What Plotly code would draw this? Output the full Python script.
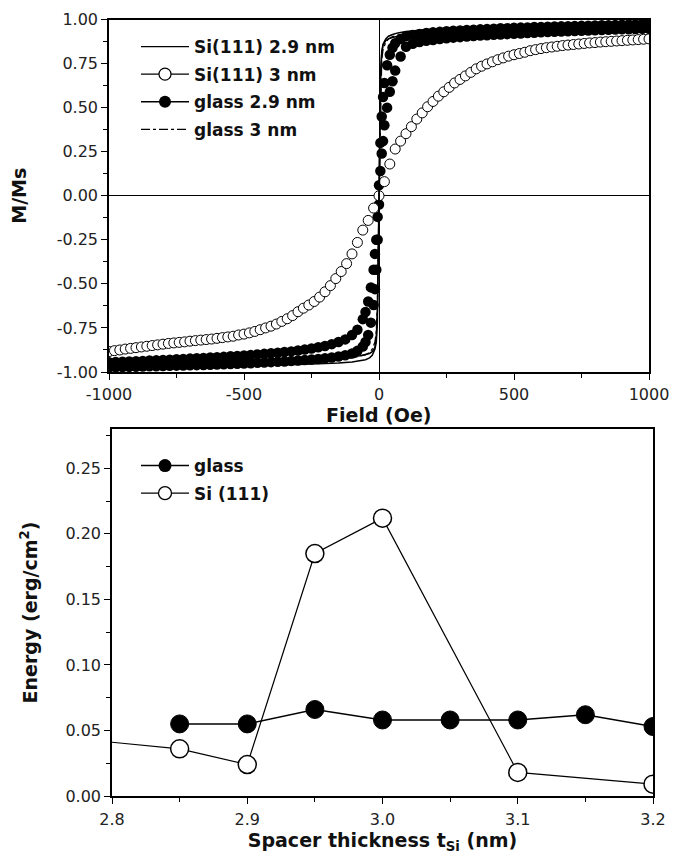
import plotly.graph_objects as go

# ---------------- Top panel: hysteresis loops (Field in Oe, M/Ms) ----------------
GLASS29_H = [-1000, -975, -950, -925, -900, -875, -850, -825, -800, -775, -750, -725,
             -700, -675, -650, -625, -600, -575, -550, -525, -500, -475, -450, -425,
             -400, -375, -350, -325, -300, -275, -250, -225, -200, -175, -150, -125,
             -100, -80, -60, -50, -40, -30, -20, -15, -10, -5, 0, 5, 10, 15, 20, 30,
             40, 50, 60, 80, 100, 125, 150, 175, 200, 225, 250, 275, 300, 325, 350,
             375, 400, 425, 450, 475, 500, 525, 550, 575, 600, 625, 650, 675, 700,
             725, 750, 775, 800, 825, 850, 875, 900, 925, 950, 975, 1000]
GLASS29_DESC = [-0.945, -0.943, -0.942, -0.940, -0.939, -0.937, -0.935, -0.934, -0.932,
                -0.930, -0.928, -0.926, -0.924, -0.922, -0.920, -0.918, -0.916, -0.914,
                -0.911, -0.909, -0.906, -0.903, -0.900, -0.897, -0.894, -0.891, -0.887,
                -0.883, -0.878, -0.873, -0.867, -0.860, -0.852, -0.842, -0.830, -0.815,
                -0.790, -0.760, -0.700, -0.660, -0.600, -0.520, -0.420, -0.330, -0.250,
                -0.120, 0.060, 0.300, 0.450, 0.560, 0.640, 0.740, 0.800, 0.840, 0.865,
                0.890, 0.905, 0.912, 0.918, 0.923, 0.927, 0.930, 0.933, 0.936, 0.938,
                0.940, 0.942, 0.944, 0.946, 0.948, 0.950, 0.951, 0.953, 0.954, 0.955,
                0.957, 0.958, 0.959, 0.960, 0.961, 0.962, 0.963, 0.964, 0.965, 0.966,
                0.967, 0.968, 0.969, 0.970, 0.971, 0.972, 0.973, 0.974]
GLASS29_ASC = [-0.974, -0.973, -0.972, -0.971, -0.970, -0.969, -0.968, -0.967, -0.966,
               -0.965, -0.964, -0.963, -0.962, -0.961, -0.960, -0.959, -0.958, -0.956,
               -0.955, -0.953, -0.952, -0.950, -0.948, -0.946, -0.944, -0.942, -0.940,
               -0.937, -0.935, -0.932, -0.929, -0.926, -0.922, -0.918, -0.912, -0.905,
               -0.895, -0.880, -0.855, -0.830, -0.790, -0.720, -0.620, -0.530, -0.420,
               -0.250, -0.050, 0.140, 0.240, 0.310, 0.400, 0.500, 0.590, 0.650, 0.710,
               0.790, 0.845, 0.862, 0.872, 0.879, 0.884, 0.889, 0.893, 0.897, 0.900,
               0.903, 0.906, 0.909, 0.911, 0.913, 0.915, 0.917, 0.919, 0.921, 0.923,
               0.925, 0.927, 0.929, 0.930, 0.932, 0.933, 0.935, 0.936, 0.938, 0.939,
               0.940, 0.942, 0.943, 0.944, 0.945, 0.946, 0.947, 0.948]

SI3_H = [-1000, -980, -960, -940, -920, -900, -880, -860, -840, -820, -800, -780, -760,
         -740, -720, -700, -680, -660, -640, -620, -600, -580, -560, -540, -520, -500,
         -480, -460, -440, -420, -400, -380, -360, -340, -320, -300, -280, -260, -240,
         -220, -200, -180, -160, -140, -120, -100, -80, -60, -40, -20, 0, 20, 40, 60,
         80, 100, 120, 140, 160, 180, 200, 220, 240, 260, 280, 300, 320, 340, 360, 380,
         400, 420, 440, 460, 480, 500, 520, 540, 560, 580, 600, 620, 640, 660, 680,
         700, 720, 740, 760, 780, 800, 820, 840, 860, 880, 900, 920, 940, 960, 980, 1000]
SI3_M = [-0.884, -0.879, -0.875, -0.870, -0.866, -0.862, -0.858, -0.854, -0.850, -0.846,
         -0.842, -0.838, -0.835, -0.832, -0.829, -0.825, -0.822, -0.819, -0.816, -0.813,
         -0.809, -0.805, -0.801, -0.797, -0.790, -0.785, -0.778, -0.770, -0.760, -0.750,
         -0.740, -0.728, -0.713, -0.698, -0.680, -0.658, -0.638, -0.620, -0.600, -0.575,
         -0.545, -0.510, -0.470, -0.430, -0.385, -0.330, -0.265, -0.195, -0.140, -0.070,
         0.000, 0.080, 0.180, 0.265, 0.310, 0.352, 0.392, 0.435, 0.470, 0.505, 0.535,
         0.565, 0.590, 0.615, 0.640, 0.660, 0.680, 0.700, 0.720, 0.735, 0.748, 0.760,
         0.772, 0.782, 0.792, 0.800, 0.807, 0.814, 0.823, 0.829, 0.835, 0.840, 0.844,
         0.848, 0.852, 0.855, 0.858, 0.861, 0.864, 0.867, 0.869, 0.872, 0.874, 0.876,
         0.878, 0.880, 0.882, 0.884, 0.886, 0.888, 0.890]

LOOP_H = [-1000, -800, -600, -400, -300, -200, -150, -100, -70, -50, -35, -25, -15, -10,
          -6, -3, 0, 3, 6, 10, 15, 25, 35, 50, 70, 100, 150, 200, 300, 400, 600, 800, 1000]
SI29_DESC = [-0.946, -0.942, -0.937, -0.931, -0.927, -0.922, -0.918, -0.913, -0.908,
             -0.903, -0.895, -0.885, -0.860, -0.800, -0.650, -0.350, 0.050, 0.400, 0.700,
             0.820, 0.860, 0.890, 0.905, 0.915, 0.924, 0.932, 0.940, 0.946, 0.953, 0.958,
             0.965, 0.970, 0.975]
SI29_ASC = [-0.975, -0.972, -0.968, -0.962, -0.958, -0.953, -0.949, -0.943, -0.937,
            -0.930, -0.920, -0.905, -0.870, -0.830, -0.720, -0.450, -0.050, 0.380, 0.680,
            0.800, 0.855, 0.880, 0.890, 0.898, 0.905, 0.910, 0.916, 0.921, 0.928, 0.933,
            0.940, 0.945, 0.950]
GLASS3_M = [-0.960, -0.955, -0.950, -0.943, -0.938, -0.932, -0.927, -0.920, -0.912,
            -0.903, -0.890, -0.870, -0.830, -0.770, -0.620, -0.350, 0.000, 0.350, 0.620,
            0.770, 0.830, 0.870, 0.890, 0.903, 0.912, 0.920, 0.927, 0.932, 0.938, 0.943,
            0.950, 0.955, 0.960]

TOP_X_TICKS = [-1000, -500, 0, 500, 1000]
TOP_X_LABELS = ["-1000", "-500", "0", "500", "1000"]
TOP_Y_TICKS = [-1.0, -0.75, -0.5, -0.25, 0.0, 0.25, 0.5, 0.75, 1.0]
TOP_Y_LABELS = ["-1.00", "-0.75", "-0.50", "-0.25", "0.00", "0.25", "0.50", "0.75", "1.00"]

# ---------------- Bottom panel: energy vs spacer thickness ----------------
GLASS_T = [2.85, 2.90, 2.95, 3.00, 3.05, 3.10, 3.15, 3.20]
GLASS_E = [0.055, 0.055, 0.066, 0.058, 0.058, 0.058, 0.062, 0.053]
SI_T = [2.75, 2.85, 2.90, 2.95, 3.00, 3.10, 3.20]
SI_E = [0.046, 0.036, 0.024, 0.185, 0.212, 0.018, 0.009]

FONT = "DejaVu Sans, Arial, sans-serif"
W, H = 681, 857

fig = go.Figure()

# ---- top panel data traces
fig.add_trace(go.Scatter(
    x=GLASS29_H + GLASS29_H, y=GLASS29_DESC + GLASS29_ASC, mode="markers",
    showlegend=False,
    marker=dict(symbol="circle", size=10.5, color="black", line=dict(width=0)),
    xaxis="x", yaxis="y"))
fig.add_trace(go.Scatter(
    x=SI3_H, y=SI3_M, mode="markers", showlegend=False,
    marker=dict(symbol="circle", size=10, color="white", line=dict(color="black", width=1)),
    xaxis="x", yaxis="y"))
fig.add_trace(go.Scatter(
    x=LOOP_H + [None] + LOOP_H, y=SI29_DESC + [None] + SI29_ASC, mode="lines",
    showlegend=False, line=dict(color="black", width=1.5), xaxis="x", yaxis="y"))
fig.add_trace(go.Scatter(
    x=LOOP_H, y=GLASS3_M, mode="lines", showlegend=False,
    line=dict(color="black", width=1.3, dash="dashdot"), xaxis="x", yaxis="y"))

# legend entries (top)
fig.add_trace(go.Scatter(x=[None], y=[None], mode="lines", name="Si(111) 2.9 nm",
                         legend="legend", legendgroup="a",
                         line=dict(color="black", width=1.2), xaxis="x", yaxis="y"))
fig.add_trace(go.Scatter(x=[None], y=[None], mode="lines+markers", name="Si(111) 3 nm",
                         legend="legend", legendgroup="b",
                         line=dict(color="black", width=1.2),
                         marker=dict(size=12, color="white", line=dict(color="black", width=1.2)),
                         xaxis="x", yaxis="y"))
fig.add_trace(go.Scatter(x=[None], y=[None], mode="lines+markers", name="glass 2.9 nm",
                         legend="legend", legendgroup="c",
                         line=dict(color="black", width=1.5),
                         marker=dict(size=12, color="black", line=dict(width=0)),
                         xaxis="x", yaxis="y"))
fig.add_trace(go.Scatter(x=[None], y=[None], mode="lines", name="glass 3 nm",
                         legend="legend", legendgroup="d",
                         line=dict(color="black", width=1.1, dash="dashdot"),
                         xaxis="x", yaxis="y"))

# ---- bottom panel
fig.add_trace(go.Scatter(
    x=GLASS_T, y=GLASS_E, mode="lines+markers", showlegend=False,
    line=dict(color="black", width=1.5),
    marker=dict(symbol="circle", size=18, color="black", line=dict(color="black", width=1)),
    xaxis="x2", yaxis="y2"))
fig.add_trace(go.Scatter(
    x=SI_T, y=SI_E, mode="lines+markers", showlegend=False,
    line=dict(color="black", width=1.2),
    marker=dict(symbol="circle", size=18, color="white", line=dict(color="black", width=1.5)),
    xaxis="x2", yaxis="y2"))
fig.add_trace(go.Scatter(x=[None], y=[None], mode="lines+markers", name="glass",
                         legend="legend2", legendgroup="e",
                         line=dict(color="black", width=1.5),
                         marker=dict(size=13, color="black", line=dict(width=0)),
                         xaxis="x2", yaxis="y2"))
fig.add_trace(go.Scatter(x=[None], y=[None], mode="lines+markers", name="Si (111)",
                         legend="legend2", legendgroup="f",
                         line=dict(color="black", width=1.2),
                         marker=dict(size=13, color="white", line=dict(color="black", width=1.3)),
                         xaxis="x2", yaxis="y2"))

tickfont = dict(family=FONT, size=16, color="#222")
titlefont = dict(family=FONT, size=19, color="#111", weight="bold")


def axis_common():
    return dict(showline=True, linecolor="black", linewidth=1.5, mirror=True,
                showgrid=False, ticks="outside", ticklen=6, tickwidth=1.2,
                tickcolor="black", tickfont=tickfont, automargin=False)


minor_style = dict(ticks="outside", ticklen=4, tickwidth=1.2, tickcolor="black")

xa = axis_common()
xa.update(domain=[109 / W, 649 / W], range=[-1000, 1000],
          tickmode="array", tickvals=TOP_X_TICKS, ticktext=TOP_X_LABELS,
          ticklabelstandoff=1,
          minor=dict(tickmode="linear", tick0=0, dtick=250, **minor_style),
          zeroline=True, zerolinecolor="black", zerolinewidth=1, anchor="y")
ya = axis_common()
ya.update(domain=[1 - 372 / H, 1 - 19.5 / H], range=[-1, 1],
          tickmode="array", tickvals=TOP_Y_TICKS, ticktext=TOP_Y_LABELS,
          minor=dict(tickmode="linear", tick0=0, dtick=0.125, **minor_style),
          zeroline=True, zerolinecolor="black", zerolinewidth=1, anchor="x",
          title=dict(text="M/Ms", font=titlefont, standoff=25))
xb = axis_common()
xb.update(domain=[112 / W, 653 / W], range=[2.8, 3.2], tick0=2.8, dtick=0.1,
          tickformat=".1f", ticklabelstandoff=2,
          minor=dict(tickmode="linear", tick0=2.8, dtick=0.05, **minor_style),
          zeroline=False, anchor="y2",
          title=dict(text="Spacer thickness t<sub>Si</sub> (nm)", font=titlefont, standoff=4))
yb = axis_common()
yb.update(domain=[1 - 796 / H, 1 - 429 / H], range=[0, 0.28], tick0=0, dtick=0.05,
          tickformat=".2f",
          minor=dict(tickmode="linear", tick0=0, dtick=0.025, **minor_style),
          zeroline=False, anchor="x2",
          title=dict(text="Energy (erg/cm<sup>2</sup>)", font=titlefont, standoff=23))

legfont = dict(family=FONT, size=17, color="#111", weight="bold")
fig.update_layout(
    width=W, height=H, margin=dict(l=0, r=0, t=0, b=0, autoexpand=False),
    paper_bgcolor="white", plot_bgcolor="white",
    xaxis=xa, yaxis=ya, xaxis2=xb, yaxis2=yb,
    legend=dict(x=136 / W, y=1 - 29 / H, xanchor="left", yanchor="top",
                bgcolor="rgba(0,0,0,0)", font=legfont, itemwidth=48,
                tracegroupgap=2.5, traceorder="grouped"),
    legend2=dict(x=136 / W, y=1 - 448 / H, xanchor="left", yanchor="top",
                 bgcolor="rgba(0,0,0,0)", font=legfont, itemwidth=48,
                 tracegroupgap=2.5, traceorder="grouped"),
    showlegend=True,
    annotations=[dict(text="Field (Oe)", xref="paper", yref="paper",
                      x=(109 + 649) / 2 / W, y=1 - 402 / H, xanchor="center",
                      yanchor="top", showarrow=False, font=titlefont)],
)

fig.write_html("out.html")
